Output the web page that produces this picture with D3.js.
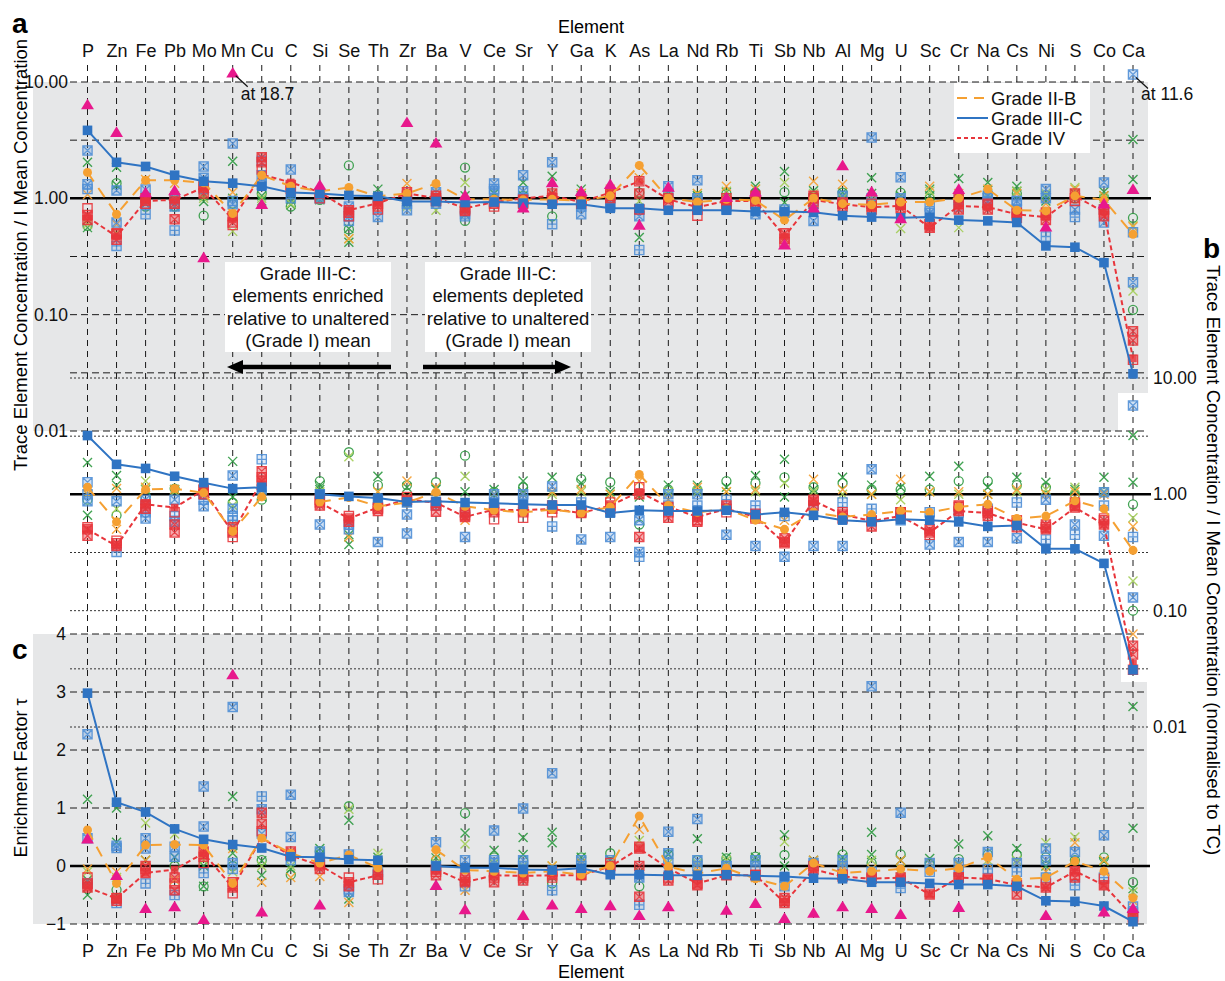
<!DOCTYPE html>
<html>
<head>
<meta charset="utf-8">
<script src="https://cdn.jsdelivr.net/npm/d3@7"></script>
<style>
  body { margin: 0; background: #fff; }
  svg text { font-family: "Liberation Sans", Arial, Helvetica, sans-serif; }
</style>
</head>
<body>
<svg id="chart" width="1225" height="981"></svg>
<script>
// ---------------- categories & ticks ----------------
const elements = ["P","Zn","Fe","Pb","Mo","Mn","Cu","C","Si","Se","Th","Zr","Ba","V","Ce","Sr","Y","Ga","K","As",
                  "La","Nd","Rb","Ti","Sb","Nb","Al","Mg","U","Sc","Cr","Na","Cs","Ni","S","Co","Ca"];
const logTicks = [10, 1, 0.1, 0.01];
const tauTicks = [-1, 0, 1, 2, 3, 4];
const legendLabels = ["Grade II-B", "Grade III-C", "Grade IV"];

// ---------------- panel a: concentration / Grade I mean ----------------
const aMeanIIB  = [1.67,0.73,1.43,1.43,1.36,0.74,1.58,1.27,1.15,1.24, 1.04,1.10,1.34,0.98,0.98,0.97,0.98,0.95,1.05,1.92,
                   1.00,0.93,0.98,0.96,0.65,1.00,0.90,0.88,0.93,0.93, 1.00,1.20,0.79,0.78,1.05,0.97,0.49];
const aMeanIIIC = [3.84,2.04,1.88,1.58,1.40,1.35,1.27,1.12,1.10,1.06, 1.04,0.94,0.94,0.92,0.93,0.91,0.89,0.89,0.82,0.82,
                   0.79,0.79,0.79,0.77,0.77,0.76,0.71,0.69,0.68,0.69, 0.65,0.64,0.62,0.39,0.38,0.28,0.031];
const aMeanIV   = [0.69,0.47,0.95,0.97,1.24,0.66,1.60,1.37,1.13,0.79, 0.91,1.10,1.01,0.82,0.93,1.00,1.05,0.93,1.12,1.40,
                   0.98,0.84,0.95,0.95,0.47,0.97,0.89,0.84,0.86,0.56, 0.86,0.84,0.73,0.69,1.05,0.76,0.042];
const aGradeV   = [6.4,3.7,1.12,1.17,0.31,18.7,0.89,null,1.30,null, null,4.5,3.0,1.06,null,0.83,1.37,1.15,1.32,0.59,
                   1.25,null,1.02,1.14,0.40,0.83,1.92,1.14,0.67,null, 1.20,null,null,0.57,null,0.90,1.20];

const aGreenX = [[2.04,0.56],[1.85,1.30],[0.90],[0.85,1.0],[0.94,1.05],[2.08,1.0],[1.05,0.95],[0.98,0.88],[0.97,1.02],[0.42,0.55],
                 [1.20,1.05],[0.90,1.0],[1.0],[1.05,0.9],[1.10],[1.37,1.05],[1.55,1.10],[1.20,1.05],[1.0],[0.46,0.80],
                 [1.10],[1.05],[1.13],[1.27,1.05],[1.70,0.92],[1.16],[1.12,1.05],[1.50,1.10],[1.05],[1.20,1.05],
                 [1.48,1.05],[1.37,1.05],[1.27,1.15],[1.05,0.95],[1.10],[1.14,1.05],[3.2,1.45]];
const aLightGreenX = [[0.60],[0.50],[1.0],[1.05],[1.0],[0.52],[1.0],[0.90],[1.0],[0.45],
                      [1.0],[0.85],[0.79],[1.37],[1.0],[1.0],[0.90],[1.10],[1.0],[0.95],
                      [1.0],[1.10],[1.15],[1.20],[1.37],[1.10],[1.0],[1.0],[0.55],[1.15],
                      [0.56],[1.10],[1.15],[1.10],[1.24],[1.0],[0.58,0.16]];
const aGreenCircle = [[0.58],[1.35],[0.85],[0.85],[0.71],[0.90],[1.10],[0.85],[0.97],[1.92,0.54],
                      [0.95],[0.90],[0.95],[1.84,0.64],[1.0],[1.05],[0.70],[1.0],[1.0],[1.12],
                      [1.05],[1.05],[1.10],[1.10],[1.13],[1.05],[1.12],[1.0],[1.12],[1.0],
                      [1.0],[1.10],[1.10],[1.0],[1.0],[1.0],[0.68,0.11]];
const aOrangeX = [[1.08],[0.60],[1.45],[1.35],[1.20],[1.13],[1.50],[1.20],[1.10],[0.45],
                  [1.0],[1.34],[1.20],[0.95],[1.0],[0.95],[1.10],[1.10],[1.20],[1.50],
                  [1.05],[1.10],[1.27],[1.20],[0.70],[1.40],[1.32],[0.95],[1.0],[1.27],
                  [1.10],[1.20],[1.10],[0.90],[1.20],[1.05],[0.57]];
const aBlueBoxX = [[2.58,1.32],[1.17,0.62],[1.19,0.90],[0.98,0.85],[1.88,1.50],[2.96,0.89],[1.58,1.30],[1.77],[1.0],[0.85,0.70],
                   [0.69],[0.79],[1.13,0.90],[0.73],[1.34,1.15],[1.58,1.15],[2.04],[0.73],[0.85],[0.80,0.70],
                   [1.27],[1.43,1.0],[0.80],[0.73],[0.75],[0.64],[1.05],[3.33,0.90],[1.52,1.0],[0.75],
                   [0.97],[1.05,0.95],[0.95,0.80],[1.20,1.0],[0.80],[1.37,0.62],[11.6,0.19]];
const aBluePlus = [[1.20],[0.39],[0.73],[0.53],[1.20],[0.95],[2.10],[1.0],[1.0],[0.64],
                   [1.0],[0.90],[0.95],[0.70],[1.20],[1.0],[0.60],[0.85],[0.90],[0.36],
                   [1.10],[0.95],[0.85],[0.90],[0.80],[0.95],[0.90],[1.0],[0.95],[0.85],
                   [0.85],[1.0],[0.95],[0.47],[0.69],[0.80],[0.51]];
const aRedBoxX = [[0.72,0.65],[0.44,0.49],[1.0,0.95],[0.66,0.90],[1.24,1.10],[0.70,0.62],[2.25,2.04],[1.30,1.20],[1.10],[0.79,0.75],
                  [0.90,0.85],[1.13],[1.05,0.95],[0.82,0.78],[0.93,0.90],[0.97,0.92],[1.10,1.0],[0.90,0.95],[1.12,1.0],[1.10,0.80],
                  [1.0,0.93],[0.88,0.80],[0.95,0.90],[1.05,0.90],[0.50,0.45],[1.05,0.90],[0.92,0.85],[0.85,0.80],[0.88,0.82],[0.56,0.60],
                  [1.0,0.80],[0.88,0.80],[0.73,0.68],[0.72,0.65],[1.10,1.0],[0.80,0.70],[0.072,0.060]];
const aRedSquare = [[0.82],[0.50],[0.90],[1.0],[1.30],[0.59],[1.77],[1.25],[1.0],[0.70],
                    [0.80],[1.05],[1.0],[0.80],[0.85],[0.90],[0.95],[0.95],[1.05],[1.40],
                    [0.90],[0.71],[1.0],[0.95],[0.42],[1.0],[0.90],[0.90],[0.90],[0.60],
                    [0.90],[0.90],[0.75],[0.75],[0.95],[0.76],[0.041]];

// ---------------- panel b: concentration / Grade I mean, normalised to TC ----------------
const bMeanIIB  = [1.15,0.58,1.10,1.12,1.03,0.48,0.95,null,0.86,0.94, 0.79,0.85,1.04,0.79,0.73,0.70,0.74,0.69,0.78,1.48,
                   0.80,0.70,0.75,0.60,0.50,0.70,0.64,0.67,0.72,0.70, 0.78,0.82,0.62,0.65,0.88,0.75,0.33];
const bMeanIIIC = [3.2,1.81,1.67,1.43,1.26,1.12,1.15,null,1.00,0.96, 0.93,0.86,0.87,0.85,0.84,0.82,0.81,0.81,0.69,0.73,
                   0.72,0.72,0.73,0.67,0.70,0.66,0.60,0.58,0.61,0.60, 0.58,0.53,0.54,0.34,0.34,0.255,0.031];
const bMeanIV   = [0.50,0.36,0.82,0.77,1.09,0.47,1.30,null,0.85,0.62, 0.77,0.90,0.85,0.64,0.74,0.73,0.75,0.69,0.80,1.05,
                   0.78,0.64,0.75,0.64,0.38,0.88,0.67,0.59,0.65,0.47, 0.72,0.69,0.57,0.50,0.77,0.55,0.035];

const bGreenX = [[1.88,0.66],[1.45,1.20],[1.10],[1.10],[1.05],[1.92,0.95],[0.95],[],[1.20,1.10],[0.45,0.37],
                 [1.43],[1.15],[1.10],[1.05],[1.10],[1.30,1.05],[1.40],[1.25],[1.05],[0.95],
                 [1.20],[1.20],[1.15],[1.45],[2.00,0.95],[1.10],[1.40],[1.20],[1.15],[1.43],
                 [1.74],[1.15],[1.40],[1.27],[1.10],[1.40],[3.2,1.27,0.015]];
const bLightGreenX = [[1.0],[0.75],[1.30],[1.05],[1.0],[0.80],[1.0],[],[1.05],[2.10],
                      [1.05],[0.95],[0.95],[1.43],[1.0],[1.0],[1.0],[1.05],[1.0],[1.0],
                      [1.05],[1.05],[1.05],[1.05],[1.25],[1.05],[1.0],[1.0],[0.90],[1.05],
                      [1.0],[1.0],[1.05],[1.10],[1.15],[1.05],[0.63,0.18]];
const bGreenCircle = [[0.90],[0.66],[0.95],[1.12],[1.05],[0.85],[0.90],[],[1.30],[2.30],
                      [1.20],[1.20],[1.27],[2.15],[1.05],[1.15],[0.80],[1.35],[1.27],[0.55],
                      [1.10],[1.10],[1.30],[1.25],[1.40],[1.15],[1.25],[1.10],[1.10],[1.10],
                      [1.30],[1.30],[1.20],[1.15],[1.0],[1.05],[0.82,0.10]];
const bOrangeX = [[1.0],[1.12,0.50],[1.15],[1.10],[1.0],[0.55],[1.0],[],[0.90],[0.43],
                  [1.05],[1.30],[1.15],[0.60],[1.0],[1.0],[1.05],[1.10],[1.0],[1.30],
                  [0.90],[1.15],[1.05],[1.10],[0.60],[1.35],[1.10],[1.0],[1.35],[1.05],
                  [1.05],[1.0],[1.10],[1.0],[1.05],[1.0],[0.53,0.063]];
const bBlueBoxX = [[1.27,0.87],[0.87],[0.62,0.90],[0.90,0.58],[0.79,1.0],[1.45,0.75],[1.10],[],[0.55],[0.55],
                   [0.39],[0.67,0.46],[0.80],[0.43],[1.0],[1.0],[1.17],[0.41],[0.43],[0.32,0.60],
                   [1.0],[1.0],[0.45],[0.36],[0.29],[0.36],[0.36],[1.64],[0.70],[0.37],
                   [0.39],[0.39],[0.42],[0.90],[0.55],[1.04,0.44],[5.8,0.13]];
const bBluePlus = [[1.0],[0.32],[0.70],[0.65],[0.90],[0.60,0.65],[2.0],[],[1.0],[0.50],
                   [0.90],[0.85],[0.80],[0.70],[0.85],[0.90],[0.53],[0.85],[0.70],[0.29],
                   [0.80],[0.80],[0.90],[0.80],[0.65],[0.80],[0.85],[0.75],[0.60],[0.70],
                   [0.70],[0.75],[0.85],[0.41],[0.45],[0.80],[0.43]];
const bRedBoxX = [[0.44,0.50],[0.36,0.38],[0.82,0.75],[0.47,0.55],[1.09,1.0],[0.52,0.47],[1.58,1.30],[],[0.85,0.80],[0.62,0.58],
                  [0.77,0.72],[0.90],[0.71,0.85],[0.64,0.70],[0.74,0.70],[0.73,0.70],[0.75,0.80],[0.69,0.72],[0.80,0.75],[1.0,0.43],
                  [0.78,0.63],[0.64,0.58],[0.75,0.80],[0.64,0.68],[0.39,0.42],[0.88,0.80],[0.67,0.62],[0.59,0.53],[0.65,0.70],[0.47,0.50],
                  [0.72,0.80],[0.69,0.65],[0.57,0.52],[0.50,0.55],[0.77,0.85],[0.55,0.60],[0.050,0.042]];
const bRedSquare = [[0.52],[0.40],[0.80],[0.70],[1.10],[0.43],[1.40],[],[0.90],[0.65],
                    [0.75],[0.95],[0.80],[0.66],[0.61],[0.63],[0.70],[0.70],[0.85],[1.15],
                    [0.70],[0.60],[0.70],[0.62],[0.38],[0.90],[0.70],[0.60],[0.70],[0.45],
                    [0.78],[0.72],[0.60],[0.52],[0.80],[0.62],[0.031]];

// ---------------- panel c: enrichment factor tau ----------------
const cMeanIIB  = [0.62,-0.30,0.36,0.37,0.36,-0.30,0.48,0.22,0.05,0.19, -0.03,null,0.28,-0.07,-0.09,-0.12,-0.09,-0.15,0.00,0.86,
                   -0.01,-0.13,-0.04,-0.22,-0.35,0.05,-0.12,-0.09,-0.05,-0.09, -0.04,0.16,-0.23,-0.20,0.08,-0.09,-0.55];
const cMeanIIIC = [2.98,1.10,0.93,0.64,0.46,0.37,0.31,0.16,0.15,0.11, 0.10,null,0.00,-0.03,-0.03,-0.06,-0.07,-0.04,-0.15,-0.15,
                   -0.16,-0.16,-0.15,-0.17,-0.18,-0.21,-0.22,-0.28,-0.28,-0.30, -0.32,-0.32,-0.35,-0.60,-0.61,-0.69,-0.96];
const cMeanIV   = [-0.37,-0.56,-0.12,-0.06,0.22,-0.37,0.48,0.18,0.01,-0.28, -0.16,null,-0.06,-0.28,-0.16,-0.17,-0.16,-0.16,-0.01,0.30,
                   -0.04,-0.30,-0.16,-0.16,-0.63,-0.06,-0.18,-0.22,-0.20,-0.49, -0.20,-0.22,-0.33,-0.37,-0.09,-0.33,-0.87];
const cGradeV   = [0.47,-0.16,-0.73,-0.70,-0.92,3.3,-0.79,null,-0.67,null, null,null,-0.33,-0.75,null,-0.85,-0.67,-0.73,-0.68,-0.85,
                   -0.70,null,-0.76,-0.64,-0.90,-0.81,-0.70,-0.73,-0.83,null, -0.71,null,null,-0.85,null,-0.79,-0.73];

const cGreenX = [[1.15,-0.24,-0.50],[1.0,0.41],[0.10],[0.15],[0.0,-0.35],[1.20,0.22],[0.09,-0.16],[-0.05],[0.30,0.20],[0.79,-0.57],
                 [0.15],[],[0.14],[0.57],[0.27],[0.49,0.20],[0.58,0.40],[0.15],[0.10],[-0.10],
                 [0.20],[0.47],[0.15],[0.15],[0.54,0.0],[0.10],[0.15],[0.58,0.20],[0.10],[0.13],
                 [0.38],[0.52],[0.30],[0.0],[0.10],[0.08],[0.65,-0.39]];
const cLightGreenX = [[-0.10],[-0.20],[0.74],[0.55],[0.10],[-0.10],[0.0],[0.0],[0.10],[0.98],
                      [0.22],[],[0.05],[0.38],[0.05],[0.0],[0.0],[0.10],[0.05],[0.44],
                      [0.05],[0.05],[0.10],[0.10],[0.42],[0.05],[0.05],[0.10],[-0.05],[0.05],
                      [0.05],[0.10],[0.10],[0.40],[0.50],[0.10],[-0.45]];
const cGreenCircle = [[-0.30],[-0.41],[0.0],[0.0],[-0.35],[0.0],[0.10],[-0.15],[0.25],[1.03],
                      [0.10],[],[0.10],[0.91],[0.15],[0.10],[-0.30],[0.15],[0.22],[-0.35],
                      [0.20],[0.10],[0.13],[0.16],[0.19],[0.05],[0.20],[0.05],[0.20],[0.05],
                      [0.12],[0.20],[0.19],[0.15],[0.10],[0.15],[-0.28]];
const cOrangeX = [[-0.05],[-0.10],[0.10],[-0.24],[0.20],[0.30],[-0.28],[-0.20],[-0.18],[-0.63],
                  [0.0],[],[0.20],[-0.42],[0.0],[-0.05],[0.0],[0.05],[0.0],[0.63],
                  [-0.10],[0.0],[-0.05],[-0.20],[-0.35],[0.10],[0.0],[-0.05],[0.10],[0.05],
                  [0.0],[0.05],[0.05],[-0.10],[0.40],[0.10],[-0.60]];
const cBlueBoxX = [[2.27,0.48],[0.31,0.35],[0.48,0.30],[0.33,0.16],[1.37,0.68],[2.74,0.05],[0.98,0.56],[1.23,0.50],[0.25],[0.20,-0.45],
                   [-0.15],[],[0.41],[0.10],[0.61,0.10],[0.99,0.10],[1.60],[0.10],[0.10],[-0.20],
                   [0.59,0.22],[0.81,0.10],[0.0],[0.10],[-0.20],[0.05],[0.10],[3.10],[0.92],[0.05],
                   [0.05],[0.24],[0.05],[0.30,0.10],[0.24],[0.53],[-0.80]];
const cBluePlus = [[-0.30],[-0.64],[-0.30],[-0.50],[-0.12],[-0.05],[1.20],[0.10],[0.10],[-0.40],
                   [-0.10],[],[0.0],[-0.35],[0.05],[0.0],[-0.42],[0.0],[-0.05],[-0.67],
                   [0.05],[0.0],[0.0],[0.0],[-0.35],[0.0],[0.0],[-0.10],[-0.38],[-0.10],
                   [-0.10],[-0.05],[-0.10],[-0.20],[-0.33],[-0.20],[-0.70]];
const cRedBoxX = [[-0.37,-0.30],[-0.56,-0.60],[-0.12,0.0],[-0.42,-0.20],[0.16,0.25],[-0.28,-0.37],[0.92,0.73],[0.18,0.25],[0.01,-0.05],[-0.28,-0.35],
                  [-0.15],[],[-0.16,-0.06],[-0.28,-0.20],[-0.28,-0.16],[-0.25,-0.17],[-0.16,-0.10],[-0.16],[0.0],[0.30,0.0,-0.53],
                  [-0.25],[-0.33],[-0.16],[-0.16],[-0.55,-0.64],[-0.06],[-0.18],[-0.22],[-0.20],[-0.49],
                  [-0.20],[-0.22],[-0.49,-0.33],[-0.37],[-0.09,-0.20],[-0.33],[-0.87]];
const cRedSquare = [[-0.20],[-0.55],[-0.05],[-0.30],[0.05],[-0.47],[0.60],[0.20],[0.05],[-0.20],
                    [-0.23],[],[-0.10],[-0.25],[-0.20],[-0.20],[-0.20],[-0.15],[0.05],[0.33],
                    [-0.20],[-0.30],[-0.15],[-0.15],[-0.60],[0.0],[-0.15],[-0.20],[-0.25],[-0.45],
                    [-0.20],[-0.25],[-0.30],[-0.30],[-0.15],[-0.22],[-0.90]];

// ---------------- drawing ----------------
const FONT = '"Liberation Sans", Arial, Helvetica, sans-serif';
const COL = {
  green: "#2f9a41", lightGreen: "#a2cd55", orange: "#f5a032",
  blue: "#2f74c3", blueLight: "#4f8fd6", red: "#e8353b", magenta: "#e8188c",
  grey: "#e6e7e8", ink: "#1a1a1a"
};

const svg = d3.select("#chart");
const x = d3.scalePoint().domain(elements).range([87.5, 1133]);
const yA = d3.scaleLog().domain([0.01, 10]).range([431, 82]);
const yB = d3.scaleLog().domain([0.01, 10]).range([727, 378]);
const yC = d3.scaleLinear().domain([-1, 4]).range([924, 634]);
const capA = 12;                       // panel a values above this are pinned to the top edge
const posA = v => yA(Math.min(v, capA));
const halfDecades = [10, Math.sqrt(10), 1 / Math.sqrt(10), 0.1, 0.1 / Math.sqrt(10), 0.01];

// panel backgrounds
svg.append("rect").attr("x", 33).attr("y", yA(10)).attr("width", 1115).attr("height", yA(0.01) - yA(10)).attr("fill", COL.grey);
svg.append("rect").attr("x", 1118).attr("y", 393).attr("width", 30).attr("height", yA(0.01) - 393).attr("fill", "#fff");
svg.append("rect").attr("x", 33).attr("y", yC(4)).attr("width", 1114).attr("height", yC(-1) - yC(4)).attr("fill", COL.grey);
svg.append("rect").attr("x", 1121).attr("y", yC(4)).attr("width", 26).attr("height", 48).attr("fill", "#fff");

const grid = svg.append("g");
// vertical element guides
grid.selectAll("line.v").data(elements).join("line")
  .attr("x1", d => x(d)).attr("x2", d => x(d)).attr("y1", 65).attr("y2", 940)
  .attr("stroke", COL.ink).attr("stroke-width", 1).attr("stroke-dasharray", "6,5");
// panel a horizontals
grid.selectAll("line.ha").data(halfDecades).join("line")
  .attr("x1", 70).attr("x2", 1148).attr("y1", d => yA(d)).attr("y2", d => yA(d))
  .attr("stroke", COL.ink).attr("stroke-width", 1).attr("stroke-dasharray", "7,4");
// panel b horizontals
grid.selectAll("line.hb").data(halfDecades).join("line")
  .attr("x1", 70).attr("x2", 1150).attr("y1", d => yB(d)).attr("y2", d => yB(d))
  .attr("stroke", "#333").attr("stroke-width", 1).attr("stroke-dasharray", "2,2");
// panel c horizontals
grid.selectAll("line.hc").data([-1, 1, 2, 3, 4]).join("line")
  .attr("x1", 70).attr("x2", 1147).attr("y1", d => yC(d)).attr("y2", d => yC(d))
  .attr("stroke", COL.ink).attr("stroke-width", 1).attr("stroke-dasharray", "7,4");
// reference lines (Grade I mean)
[[yA(1), 1151], [yB(1), 1151], [yC(0), 1150]].forEach(([yy, x2]) => {
  svg.append("line").attr("x1", 70).attr("x2", x2).attr("y1", yy).attr("y2", yy)
    .attr("stroke", "#000").attr("stroke-width", 2.5);
});

// explanatory boxes and arrows
function noteBox(x0, lines) {
  svg.append("rect").attr("x", x0).attr("y", 262).attr("width", 166).attr("height", 90).attr("fill", "#fff");
  lines.forEach((t, i) => {
    svg.append("text").attr("x", x0 + 83).attr("y", 280 + i * 22.3).attr("text-anchor", "middle")
      .attr("font-size", 18.5).attr("fill", "#111").text(t);
  });
}
noteBox(225, ["Grade III-C:", "elements enriched", "relative to unaltered", "(Grade I) mean"]);
noteBox(425, ["Grade III-C:", "elements depleted", "relative to unaltered", "(Grade I) mean"]);
function arrow(xFrom, xTip, yy) {
  const dir = Math.sign(xTip - xFrom);
  svg.append("line").attr("x1", xFrom).attr("x2", xTip - dir * 14).attr("y1", yy).attr("y2", yy)
    .attr("stroke", "#000").attr("stroke-width", 4.5);
  svg.append("path").attr("d", `M${xTip},${yy} L${xTip - dir * 16},${yy - 7} L${xTip - dir * 16},${yy + 7} Z`).attr("fill", "#000");
}
arrow(391, 227, 367);
arrow(423, 571, 367);

// marker shapes
function shape(type, s) {
  switch (type) {
    case "x": return `M${-s},${-s}L${s},${s}M${-s},${s}L${s},${-s}`;
    case "boxx": return `M${-s},${-s}H${s}V${s}H${-s}Z M${-s},${-s}L${s},${s}M${-s},${s}L${s},${-s}`;
    case "boxplus": return `M${-s},${-s}H${s}V${s}H${-s}Z M0,${-s}V${s}M${-s},0H${s}`;
    case "square": return `M${-s},${-s}H${s}V${s}H${-s}Z`;
    case "tri": return `M0,${-s * 1.05}L${s * 1.15},${s * 0.85}L${-s * 1.15},${s * 0.85}Z`;
    default: return d3.symbol(d3.symbolCircle, Math.PI * s * s)();
  }
}
const sampleStyles = {
  greenCircle: { type: "circle", s: 4.5, stroke: COL.green, fill: "none", w: 1.3 },
  greenX:      { type: "x", s: 4.5, stroke: COL.green, fill: "none", w: 1.4 },
  lightGreenX: { type: "x", s: 4.5, stroke: COL.lightGreen, fill: "none", w: 1.4 },
  orangeX:     { type: "x", s: 4.5, stroke: COL.orange, fill: "none", w: 1.4 },
  bluePlus:    { type: "boxplus", s: 4.6, stroke: COL.blueLight, fill: "rgba(79,143,214,0.18)", w: 1.3 },
  blueBoxX:    { type: "boxx", s: 4.6, stroke: COL.blueLight, fill: "rgba(79,143,214,0.3)", w: 1.3 },
  redSquare:   { type: "square", s: 4.6, stroke: COL.red, fill: "none", w: 1.3 },
  redBoxX:     { type: "boxx", s: 4.6, stroke: COL.red, fill: "rgba(232,53,59,0.45)", w: 1.3 }
};

function drawSamples(g, lists, pos, style) {
  const pts = [];
  lists.forEach((vals, i) => vals.forEach(v => pts.push({ e: elements[i], v })));
  g.selectAll(null).data(pts).join("path")
    .attr("transform", d => `translate(${x(d.e)},${pos(d.v)})`)
    .attr("d", shape(style.type, style.s))
    .attr("stroke", style.stroke).attr("fill", style.fill).attr("stroke-width", style.w)
    .attr("opacity", 0.9);
}
function drawMean(g, vals, pos, color, dash, marker) {
  const pts = vals.map((v, i) => ({ e: elements[i], v }));
  const line = d3.line().defined(d => d.v != null).x(d => x(d.e)).y(d => pos(d.v));
  g.append("path").datum(pts).attr("d", line).attr("fill", "none")
    .attr("stroke", color).attr("stroke-width", 2).attr("stroke-dasharray", dash);
  if (marker) {
    g.selectAll(null).data(pts.filter(d => d.v != null)).join("path")
      .attr("transform", d => `translate(${x(d.e)},${pos(d.v)})`)
      .attr("d", shape(marker.type, marker.s)).attr("fill", color).attr("opacity", marker.op || 1);
  }
}
function drawTriangles(g, vals, pos) {
  const pts = vals.map((v, i) => ({ e: elements[i], v })).filter(d => d.v != null);
  g.selectAll(null).data(pts).join("path")
    .attr("transform", d => `translate(${x(d.e)},${pos(d.v)})`)
    .attr("d", shape("tri", 5.6)).attr("fill", COL.magenta);
}

function drawPanel(pos, s, means, tri) {
  const g = svg.append("g");
  drawSamples(g, s.greenCircle, pos, sampleStyles.greenCircle);
  drawSamples(g, s.greenX, pos, sampleStyles.greenX);
  drawSamples(g, s.lightGreenX, pos, sampleStyles.lightGreenX);
  drawSamples(g, s.orangeX, pos, sampleStyles.orangeX);
  drawSamples(g, s.bluePlus, pos, sampleStyles.bluePlus);
  drawSamples(g, s.blueBoxX, pos, sampleStyles.blueBoxX);
  drawSamples(g, s.redSquare, pos, sampleStyles.redSquare);
  drawSamples(g, s.redBoxX, pos, sampleStyles.redBoxX);
  drawMean(g, means[2], pos, COL.red, "5,3", { type: "square", s: 3.8, op: 0.85 });
  drawMean(g, means[0], pos, COL.orange, "11,8", { type: "circle", s: 4.5 });
  drawMean(g, means[1], pos, COL.blue, null, { type: "square", s: 4.8 });
  if (tri) drawTriangles(g, tri, pos);
}

drawPanel(posA, { greenCircle: aGreenCircle, greenX: aGreenX, lightGreenX: aLightGreenX, orangeX: aOrangeX,
                  bluePlus: aBluePlus, blueBoxX: aBlueBoxX, redSquare: aRedSquare, redBoxX: aRedBoxX },
          [aMeanIIB, aMeanIIIC, aMeanIV], aGradeV);
drawPanel(yB,   { greenCircle: bGreenCircle, greenX: bGreenX, lightGreenX: bLightGreenX, orangeX: bOrangeX,
                  bluePlus: bBluePlus, blueBoxX: bBlueBoxX, redSquare: bRedSquare, redBoxX: bRedBoxX },
          [bMeanIIB, bMeanIIIC, bMeanIV], null);
drawPanel(yC,   { greenCircle: cGreenCircle, greenX: cGreenX, lightGreenX: cLightGreenX, orangeX: cOrangeX,
                  bluePlus: cBluePlus, blueBoxX: cBlueBoxX, redSquare: cRedSquare, redBoxX: cRedBoxX },
          [cMeanIIB, cMeanIIIC, cMeanIV], cGradeV);

// off-scale annotations
function offScale(el, val) {
  const px = x(el), py = posA(val);
  svg.append("line").attr("x1", px + 3).attr("y1", py + 3).attr("x2", px + 15).attr("y2", py + 14)
    .attr("stroke", "#111").attr("stroke-width", 1.2);
  svg.append("text").attr("x", px + 8).attr("y", 100).attr("font-size", 17.5).attr("fill", "#111").text("at " + val);
}
offScale("Mn", aGradeV[elements.indexOf("Mn")]);
offScale("Ca", aBlueBoxX[elements.indexOf("Ca")][0]);

// axes
function styleAxis(g, size) {
  g.select(".domain").remove();
  g.attr("font-family", FONT).attr("font-size", size);
  g.selectAll("text").attr("fill", "#111");
}
svg.append("g").attr("transform", "translate(0,62)")
  .call(d3.axisTop(x).tickSize(0).tickPadding(5)).call(g => styleAxis(g, 18));
svg.append("g").attr("transform", "translate(0,940)")
  .call(d3.axisBottom(x).tickSize(0).tickPadding(4)).call(g => styleAxis(g, 18));
svg.append("g").attr("transform", "translate(70,0)")
  .call(d3.axisLeft(yA).tickValues(logTicks).tickFormat(d3.format(".2f")).tickSize(0).tickPadding(2))
  .call(g => styleAxis(g, 17.5));
svg.append("g").attr("transform", "translate(1150,0)")
  .call(d3.axisRight(yB).tickValues(logTicks).tickFormat(d3.format(".2f")).tickSize(0).tickPadding(3))
  .call(g => styleAxis(g, 17.5));
svg.append("g").attr("transform", "translate(70,0)")
  .call(d3.axisLeft(yC).tickValues(tauTicks).tickFormat(d3.format("d")).tickSize(0).tickPadding(4))
  .call(g => styleAxis(g, 17.5));

// titles
svg.append("text").attr("x", 591).attr("y", 33).attr("text-anchor", "middle").attr("font-size", 18).text("Element");
svg.append("text").attr("x", 591).attr("y", 978).attr("text-anchor", "middle").attr("font-size", 18).text("Element");
svg.append("text").attr("transform", "translate(27,255) rotate(-90)").attr("text-anchor", "middle")
  .attr("font-size", 18.5).text("Trace Element Concentration / I Mean Concentration");
svg.append("text").attr("transform", "translate(27,778) rotate(-90)").attr("text-anchor", "middle")
  .attr("font-size", 18).text("Enrichment Factor τ");
svg.append("text").attr("transform", "translate(1207,560) rotate(90)").attr("text-anchor", "middle")
  .attr("font-size", 18.5).text("Trace Element Concentration / I Mean Concentration (normalised to TC)");
[["a", 12, 33], ["b", 1203, 258], ["c", 12, 659]].forEach(([t, tx, ty]) => {
  svg.append("text").attr("x", tx).attr("y", ty).attr("font-size", 28).attr("font-weight", "bold").text(t);
});

// legend
const lg = svg.append("g");
lg.append("rect").attr("x", 954).attr("y", 83).attr("width", 136).attr("height", 70).attr("fill", "#fff");
const legendStyles = [[COL.orange, "10,7"], [COL.blue, null], [COL.red, "4,3"]];
legendLabels.forEach((lab, i) => {
  const yy = 98 + i * 20;
  lg.append("line").attr("x1", 957).attr("x2", 988).attr("y1", yy).attr("y2", yy)
    .attr("stroke", legendStyles[i][0]).attr("stroke-width", 2).attr("stroke-dasharray", legendStyles[i][1]);
  lg.append("text").attr("x", 991).attr("y", yy + 6.5).attr("font-size", 18.5).attr("fill", "#111").text(lab);
});
</script>
</body>
</html>
